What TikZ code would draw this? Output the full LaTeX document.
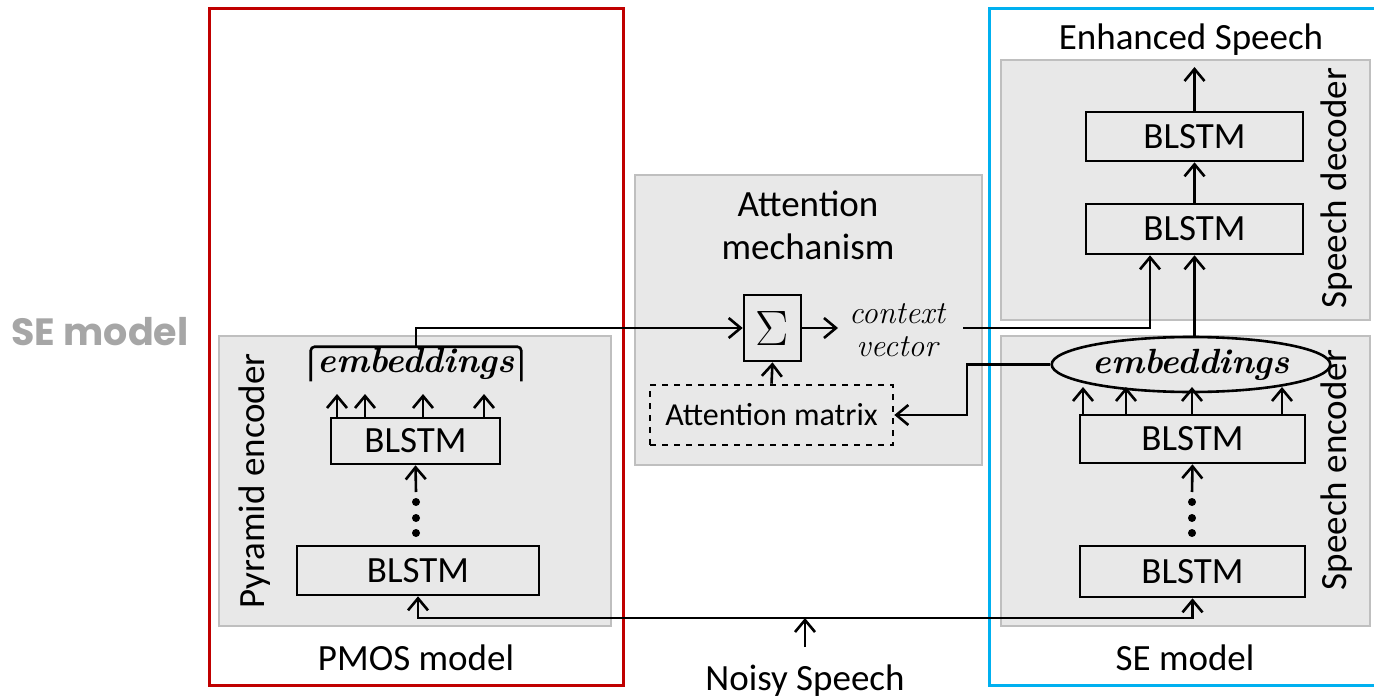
\documentclass[tikz,border=0pt]{standalone}
\usepackage{fontspec}
\setmainfont{Carlito}
\newfontfamily\poppins{Poppins}
\newfontfamily\lmserif{Latin Modern Roman}
\usetikzlibrary{arrows.meta,shapes.geometric}

\definecolor{panelgray}{HTML}{E8E8E8}
\definecolor{panelline}{HTML}{BFBFBF}
\definecolor{pmosred}{HTML}{C00000}
\definecolor{seblue}{HTML}{00B0F0}
\definecolor{labelgray}{HTML}{A6A6A6}

\tikzset{
  panel/.style={draw=panelline,fill=panelgray,line width=1pt},
  blstm/.style={draw,line width=1.3pt,inner sep=0pt,font=\fontsize{18.5}{20}\selectfont},
  txt/.style={font=\fontsize{18.5}{21.5}\selectfont,inner sep=0pt},
  sidetxt/.style={txt,rotate=90},
  embtxt/.style={font=\lmserif\bfseries\itshape\fontsize{17.5}{20}\selectfont,inner sep=0pt}
}

\begin{document}
\begin{tikzpicture}[x=0.5pt,y=-0.5pt,line width=1.3pt,
    >={Straight Barb[length=6pt,width=10pt]}]

  \useasboundingbox (0,0) rectangle (1374,700);

  % model frames
  \draw[pmosred,line width=1.5pt] (209,9) rectangle (623,685);
  \draw[seblue,line width=1.5pt] (989,9) rectangle (1390,685);

  % grey panels
  \draw[panel] (219,336) rectangle (611,626);
  \draw[panel] (635,175) rectangle (982,465);
  \draw[panel] (1001,60) rectangle (1370,320);
  \draw[panel] (1001,336) rectangle (1370,626);

  % texts
  \node[font=\poppins\bfseries\fontsize{19}{22}\selectfont,text=labelgray,anchor=base] (selabel) at (100,345) {SE model};
  \node[sidetxt] (pyramid) at (255,481) {Pyramid encoder};
  \node[sidetxt] (decname) at (1337,188) {Speech decoder};
  \node[sidetxt] (encname) at (1337,470) {Speech encoder};
  \node[txt,anchor=base] (pmos) at (416,670) {PMOS model};
  \node[txt,anchor=base] (semodel) at (1185,670) {SE model};
  \node[txt,anchor=base] (noisy) at (805,690) {Noisy Speech};
  \node[txt,anchor=base] (enhanced) at (1191,50) {Enhanced Speech};
  \node[txt,align=center] (attname) at (808,225) {Attention\\mechanism};

  % pyramid encoder
  \node[blstm,minimum width=84.5pt,minimum height=23pt] (pblstma) at (415.5,441) {BLSTM};
  \node[blstm,minimum width=121pt,minimum height=24.5pt] (pblstmb) at (418,570.5) {BLSTM};
  \node[embtxt,minimum width=104pt,minimum height=16pt] (pembed) at (416,364) {embeddings};
  \draw[rounded corners=2pt] (pembed.south west) -- (pembed.north west)
    -- (pembed.north east) -- (pembed.south east);
  \foreach \y in {502,518,533}
    \fill (416,\y) circle (2pt);
  \coordinate (pdots) at (416,492);

  % attention mechanism
  \node[draw,minimum width=28.5pt,minimum height=33pt,inner sep=0pt,font=\fontsize{29}{30}\selectfont] (sigma) at (772.5,328) {$\Sigma$};
  \node[draw,dashed,minimum width=121.5pt,minimum height=30pt,inner sep=0pt,font=\fontsize{16}{18}\selectfont] (attmat) at (771.5,415) {Attention matrix};
  \node[font=\lmserif\itshape\fontsize{16}{16.5}\selectfont,align=center,inner sep=0pt] (context) at (897,330) {context\\vector};
  \coordinate (ctxin) at (838,328);
  \coordinate (ctxout) at (963,328);
  \coordinate (turn) at (967,415);

  % speech encoder / decoder
  \node[blstm,minimum width=112.5pt,minimum height=24pt] (sblstma) at (1192.5,439) {BLSTM};
  \node[blstm,minimum width=112.5pt,minimum height=25.5pt] (sblstmb) at (1192.5,571.5) {BLSTM};
  \node[draw,ellipse,embtxt,minimum width=126pt,minimum height=27.5pt] (sembed) at (1191,364.5) {embeddings};
  \node[blstm,minimum width=108.5pt,minimum height=25pt] (dblstmb) at (1194.5,229) {BLSTM};
  \node[blstm,minimum width=108.5pt,minimum height=24.5pt] (dblstma) at (1194.5,136.5) {BLSTM};
  \foreach \y in {502,518,533}
    \fill (1192,\y) circle (2pt);
  \coordinate (sdots) at (1192,492);

  \coordinate (bus) at (805,618);

  % connectors
  \draw[->] (pdots) -- (pblstma.south);
  \foreach \x in {337,365,423,484}
    \draw[->] (\x,0 |- pblstma.north) -- (\x,394);
  \draw[->] (pembed.north) |- (sigma.west);
  \draw[->] (sigma.east) -- (ctxin);
  \draw[->] (attmat.north) -- (sigma.south);
  \draw[->] (ctxout) -| (1150,0 |- dblstmb.south);
  \draw[->] (sembed.west) -| (turn) -- (attmat.east);

  \draw[->] (sdots) -- (sblstma.south);
  \foreach \x in {1083,1126,1192,1282}
    \draw[->] (\x,0 |- sblstma.north) -- (\x,387);
  \draw[->] (1194.5,0 |- sembed.north) -- (dblstmb.south);
  \draw[->] (dblstmb) -- (dblstma);
  \draw[->] (dblstma.north) -- (1194.5,67);

  \draw[->,shorten <=8pt] (noisy.north) -- (bus);
  \draw[->] (bus) -| (pblstmb.south);
  \draw[->] (bus) -| (sblstmb.south);

\end{tikzpicture}
\end{document}
